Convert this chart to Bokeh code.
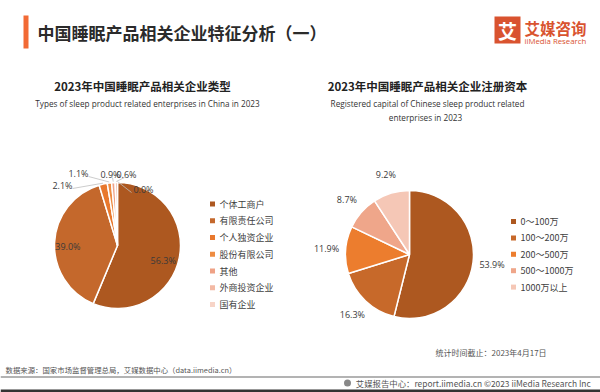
import numpy as np
from bokeh.plotting import figure
from bokeh.models import Range1d
from bokeh.core.properties import value
from bokeh.embed import file_html
from bokeh.resources import INLINE

# ---------------- data ----------------
type_labels = ["个体工商户", "有限责任公司", "个人独资企业", "股份有限公司", "其他", "外商投资企业", "国有企业"]
type_share = [56.3, 39.0, 2.1, 1.1, 0.9, 0.6, 0.0]

capital_labels = ["0～100万", "100～200万", "200～500万", "500～1000万", "1000万以上"]
capital_share = [53.9, 16.3, 11.9, 8.7, 9.2]

# ---------------- style ----------------
type_colors = ["#AD5820", "#C4682C", "#E8782D", "#EE8C42", "#EFA286", "#F3B9A4", "#F7D4C7"]
capital_colors = ["#AD5820", "#C7692A", "#EC7D2E", "#EFA68A", "#F5C7B6"]
CJK = value("Noto Sans CJK SC")
LAT = value("Open Sans")

W, H = 600, 392


def X(rx):
    return rx


def Y(ry):
    return H - ry


p = figure(width=W, height=H, output_backend="svg", toolbar_location=None,
           x_range=Range1d(0, W), y_range=Range1d(0, H), min_border=0)
p.axis.visible = False
p.grid.visible = False
p.outline_line_color = None
p.background_fill_color = "white"
p.border_fill_color = "white"

# ---------------- header ----------------
p.quad(left=X(23), right=X(28), bottom=Y(48), top=Y(15), color="#F26A35", line_color=None)
p.text(x=[X(37)], y=[Y(32)], text=["中国睡眠产品相关企业特征分析（一）"], text_font=CJK,
       text_font_size="17px", text_font_style="bold", text_color="#2b2b2b", text_baseline="middle")
# logo
p.quad(left=X(494), right=X(520), bottom=Y(43), top=Y(16), color="#D9532F", line_color=None)
p.text(x=[X(507)], y=[Y(30)], text=["艾"], text_font=CJK, text_font_size="19px", text_font_style="bold",
       text_color="white", text_align="center", text_baseline="middle")
p.text(x=[X(524)], y=[Y(27)], text=["艾媒咨询"], text_font=CJK, text_font_size="15.5px", text_font_style="bold",
       text_color="#D9532F", text_baseline="middle")
p.text(x=[X(524)], y=[Y(40)], text=["iiMedia Research"], text_font=LAT, text_font_size="7.8px",
       text_color="#D9532F", text_baseline="middle")

# ---------------- chart titles ----------------
p.text(x=[X(142)], y=[Y(85)], text=["2023年中国睡眠产品相关企业类型"], text_font=CJK, text_font_size="11.5px",
       text_font_style="bold", text_color="#222", text_align="center", text_baseline="middle")
p.text(x=[X(147)], y=[Y(103)], text=["Types of sleep product related enterprises in China in 2023"],
       text_font=LAT, text_font_size="8.2px", text_color="#333", text_align="center", text_baseline="middle")
p.text(x=[X(427)], y=[Y(85)], text=["2023年中国睡眠产品相关企业注册资本"], text_font=CJK, text_font_size="11.5px",
       text_font_style="bold", text_color="#222", text_align="center", text_baseline="middle")
p.text(x=[X(427), X(425)], y=[Y(103), Y(117)],
       text=["Registered capital of Chinese sleep product related", "enterprises in 2023"],
       text_font=LAT, text_font_size="8.2px", text_color="#333", text_align="center", text_baseline="middle")


def pie(cx, cy, r, shares, colors):
    vals = np.array(shares, dtype=float)
    frac = vals / vals.sum()
    cum = np.concatenate([[0], np.cumsum(frac)])
    start = np.pi / 2 - 2 * np.pi * cum[1:]
    end = np.pi / 2 - 2 * np.pi * cum[:-1]
    keep = [i for i in range(len(vals)) if vals[i] > 0]   # zero slices are not drawn
    p.wedge(x=[X(cx)] * len(keep), y=[Y(cy)] * len(keep), radius=r, radius_units="screen",
            start_angle=[start[i] for i in keep], end_angle=[end[i] for i in keep],
            fill_color=[colors[i] for i in keep], line_color="white", line_width=1.5)
    mid = (cum[1:] + cum[:-1]) / 2
    return mid


def pt(cx, cy, r, f):
    a = 2 * np.pi * f
    return X(cx + r * np.sin(a)), Y(cy - r * np.cos(a))


# ---------------- left pie ----------------
LCX, LCY, LR = 117, 245, 63
mid = pie(LCX, LCY, LR, type_share, type_colors)
txt = [f"{v:.1f}%" for v in type_share]
# inside labels for the two large slices
inner_shift = {0: (0, 6), 1: (-3, 3)}
for i in (0, 1):
    x, y = pt(LCX, LCY, LR * 0.74, mid[i])
    dx, dy = inner_shift[i]
    p.text(x=[x + dx], y=[y - dy], text=[txt[i]], text_font=LAT,
           text_font_size="9px", text_color="#3a3a3a", text_align="center", text_baseline="middle")
# outside labels for the small slices (label placement)
small_pos = {2: (62, 185, 72), 3: (78, 173, 88), 4: (110, 174, 112), 5: (126, 174, 124), 6: (143, 189, 131)}
for i, (lx, ly, ax) in small_pos.items():
    ex, ey = pt(LCX, LCY, LR + 1, mid[i])
    p.line(x=[ex, X(ax)], y=[ey, Y(ly + 3)], line_color="#BFBFBF", line_width=0.8)
    p.text(x=[X(lx)], y=[Y(ly)], text=[txt[i]], text_font=LAT, text_font_size="9px",
           text_color="#3a3a3a", text_align="center", text_baseline="middle")

# left legend
ly0, ldy = 203.5, 16.75
for i, lab in enumerate(type_labels):
    yy = Y(ly0 + i * ldy)
    p.rect(x=[X(212)], y=[yy], width=5, height=5, width_units="screen", height_units="screen",
           fill_color=type_colors[i], line_color=None)
    p.text(x=[X(219)], y=[yy], text=[lab], text_font=CJK, text_font_size="9px",
           text_color="#404040", text_baseline="middle")

# ---------------- right pie ----------------
RCX, RCY, RR = 409, 254, 64
midr = pie(RCX, RCY, RR, capital_share, capital_colors)
txtr = [f"{v:.1f}%" for v in capital_share]
for i, f in enumerate(midr):
    x, y = pt(RCX, RCY, RR * 1.3, f)
    p.text(x=[x], y=[y], text=[txtr[i]], text_font=LAT, text_font_size="9px",
           text_color="#3a3a3a", text_align="center", text_baseline="middle")

ry0, rdy = 221, 16.4
for i, lab in enumerate(capital_labels):
    yy = Y(ry0 + i * rdy)
    p.rect(x=[X(513)], y=[yy], width=5, height=5, width_units="screen", height_units="screen",
           fill_color=capital_colors[i], line_color=None)
    p.text(x=[X(520)], y=[yy], text=[lab], text_font=CJK, text_font_size="9px",
           text_color="#404040", text_baseline="middle")

# ---------------- footer ----------------
p.text(x=[X(435)], y=[Y(352)], text=["统计时间截止：2023年4月17日"], text_font=CJK, text_font_size="8px",
       text_color="#555", text_baseline="middle")
p.text(x=[X(5)], y=[Y(369)], text=["数据来源：国家市场监督管理总局，艾媒数据中心（data.iimedia.cn）"], text_font=CJK,
       text_font_size="7.4px", text_color="#555", text_baseline="middle")
p.line(x=[0, W], y=[Y(376.5), Y(376.5)], line_color="#9a9a9a", line_width=1.5)
p.text(x=[X(594)], y=[Y(382.5)], text=["艾媒报告中心：report.iimedia.cn  ©2023  iiMedia Research Inc"], text_font=CJK,
       text_font_size="8.4px", text_color="#555", text_align="right", text_baseline="middle")
p.scatter(x=[X(347)], y=[Y(382.5)], size=7, marker="circle", fill_color="#888", line_color=None)
p.quad(left=0, right=W, bottom=0, top=Y(389), color="#333333", line_color=None)

open("out.html", "w").write(file_html(p, INLINE))
